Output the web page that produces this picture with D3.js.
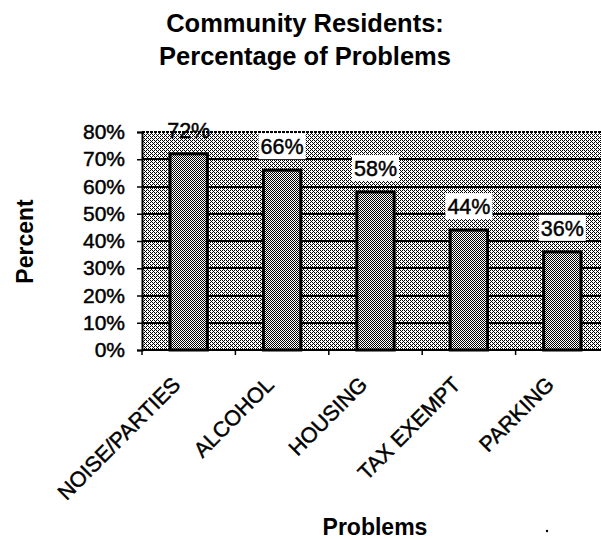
<!DOCTYPE html>
<html>
<head>
<meta charset="utf-8">
<script src="https://cdn.jsdelivr.net/npm/d3@7/dist/d3.min.js"></script>
<style>
  html, body { margin: 0; padding: 0; background: #ffffff; }
  svg { display: block; }
  text { font-family: "Liberation Sans", Arial, sans-serif; fill: #000; }
  .heavy { stroke: #000; stroke-width: 0.45px; }
</style>
</head>
<body>
<svg id="chart" width="601" height="539"></svg>
<script>
const categories = ["NOISE/PARTIES", "ALCOHOL", "HOUSING", "TAX EXEMPT", "PARKING"];
const values = [0.72, 0.66, 0.58, 0.44, 0.36];
const yTicks = [0, 0.1, 0.2, 0.3, 0.4, 0.5, 0.6, 0.7, 0.8];
const titleLines = ["Community Residents:", "Percentage of Problems"];
const yTitle = "Percent";
const xTitle = "Problems";

const svg = d3.select("#chart");
const plot = { left: 142, right: 609, top: 132, bottom: 350 };

// dithered patterns (scanned look)
const defs = svg.append("defs");
function makePattern(id, size, bits) {
  const p = defs.append("pattern").attr("id", id)
    .attr("width", size).attr("height", size).attr("patternUnits", "userSpaceOnUse");
  p.append("rect").attr("width", size).attr("height", size).attr("fill", "#fff");
  bits.forEach((row, r) => row.forEach((b, c) => {
    if (b) p.append("rect").attr("x", c).attr("y", r).attr("width", 1).attr("height", 1)
      .attr("fill", "#000").attr("shape-rendering", "crispEdges");
  }));
}
makePattern("bgPat", 4, [[1,0,1,0],[0,0,0,1],[1,0,1,0],[0,1,0,0]]);
makePattern("barPat", 2, [[1,0],[0,1]]);

const x = d3.scaleBand().domain(categories).range([plot.left, plot.right])
  .paddingInner(0.6).paddingOuter(0.3);
const y = d3.scaleLinear().domain([0, 0.8]).range([plot.bottom, plot.top]);

// Title
svg.append("text").attr("x", 305).attr("y", 32)
  .attr("text-anchor", "middle").attr("font-weight", "bold").attr("font-size", 25.5)
  .text(titleLines[0]);
svg.append("text").attr("x", 305).attr("y", 65)
  .attr("text-anchor", "middle").attr("font-weight", "bold").attr("font-size", 25.5)
  .text(titleLines[1]);

// plot background
svg.append("rect").attr("x", plot.left).attr("y", plot.top)
  .attr("width", plot.right - plot.left).attr("height", plot.bottom - plot.top)
  .attr("fill", "url(#bgPat)").attr("shape-rendering", "crispEdges");

// gridlines
svg.append("g").attr("shape-rendering", "crispEdges").selectAll("line").data(yTicks.filter(d => d > 0))
  .join("line")
  .attr("x1", plot.left).attr("x2", plot.right)
  .attr("y1", d => Math.round(y(d))).attr("y2", d => Math.round(y(d)))
  .attr("stroke", "#000").attr("stroke-width", 2)
  .attr("stroke-dasharray", d => d === 0.8 ? "3,1" : null);

// y axis
const yAxis = svg.append("g").attr("transform", `translate(${plot.left},0)`)
  .call(d3.axisLeft(y).tickValues(yTicks).tickFormat(d3.format(".0%")).tickSize(5).tickPadding(12));
yAxis.select(".domain").attr("stroke", "#000").attr("stroke-width", 2);
yAxis.selectAll(".tick line").attr("stroke", "#000").attr("stroke-width", 1.5);
yAxis.selectAll(".tick text").attr("class", "heavy").attr("font-size", 21)
  .attr("font-family", "Liberation Sans, Arial, sans-serif").attr("fill", "#000");

// x axis line & ticks at band boundaries
svg.append("line").attr("x1", plot.left).attr("x2", plot.right)
  .attr("y1", plot.bottom).attr("y2", plot.bottom)
  .attr("stroke", "#000").attr("stroke-width", 2);
const step = x.step();
svg.append("g").selectAll("line").data(categories)
  .join("line")
  .attr("x1", d => x(d) + x.bandwidth() / 2 - step / 2)
  .attr("x2", d => x(d) + x.bandwidth() / 2 - step / 2)
  .attr("y1", plot.bottom).attr("y2", plot.bottom + 5)
  .attr("stroke", "#000").attr("stroke-width", 1.5);

// bars
svg.append("g").selectAll("rect").data(categories)
  .join("rect")
  .attr("x", d => x(d))
  .attr("y", (d, i) => y(values[i]))
  .attr("width", x.bandwidth())
  .attr("height", (d, i) => y(0) - y(values[i]))
  .attr("fill", "url(#barPat)")
  .attr("stroke", "#000").attr("stroke-width", 3);

// data labels
const lab = svg.append("g");
categories.forEach((c, i) => {
  const cx = x(c) + x.bandwidth() / 2;
  const by = y(values[i]) - 16;
  const t = lab.append("text").attr("class", "heavy").attr("x", cx).attr("y", by)
    .attr("text-anchor", "middle").attr("font-size", 21.5)
    .text(d3.format(".0%")(values[i]));
  if (i > 0) {
    const bb = t.node().getBBox();
    lab.insert("rect", "text").attr("x", bb.x - 2).attr("y", by - 21)
      .attr("width", bb.width + 4).attr("height", 26).attr("fill", "#fff");
  }
});

// x tick labels
svg.append("g").selectAll("text").data(categories)
  .join("text").attr("class", "heavy")
  .attr("transform", d => `translate(${x(d) + x.bandwidth() / 2 - 7},${plot.bottom + 36}) rotate(-45)`)
  .attr("text-anchor", "end").attr("font-size", 21.5)
  .text(d => d);

// axis titles
svg.append("text").attr("transform", "translate(33,241.5) rotate(-90)")
  .attr("text-anchor", "middle").attr("font-weight", "bold").attr("font-size", 23)
  .text(yTitle);
svg.append("text").attr("x", 375).attr("y", 535)
  .attr("text-anchor", "middle").attr("font-weight", "bold").attr("font-size", 23)
  .text(xTitle);

// scan speck
svg.append("circle").attr("cx", 547).attr("cy", 531).attr("r", 1.2).attr("fill", "#000");
</script>
</body>
</html>
